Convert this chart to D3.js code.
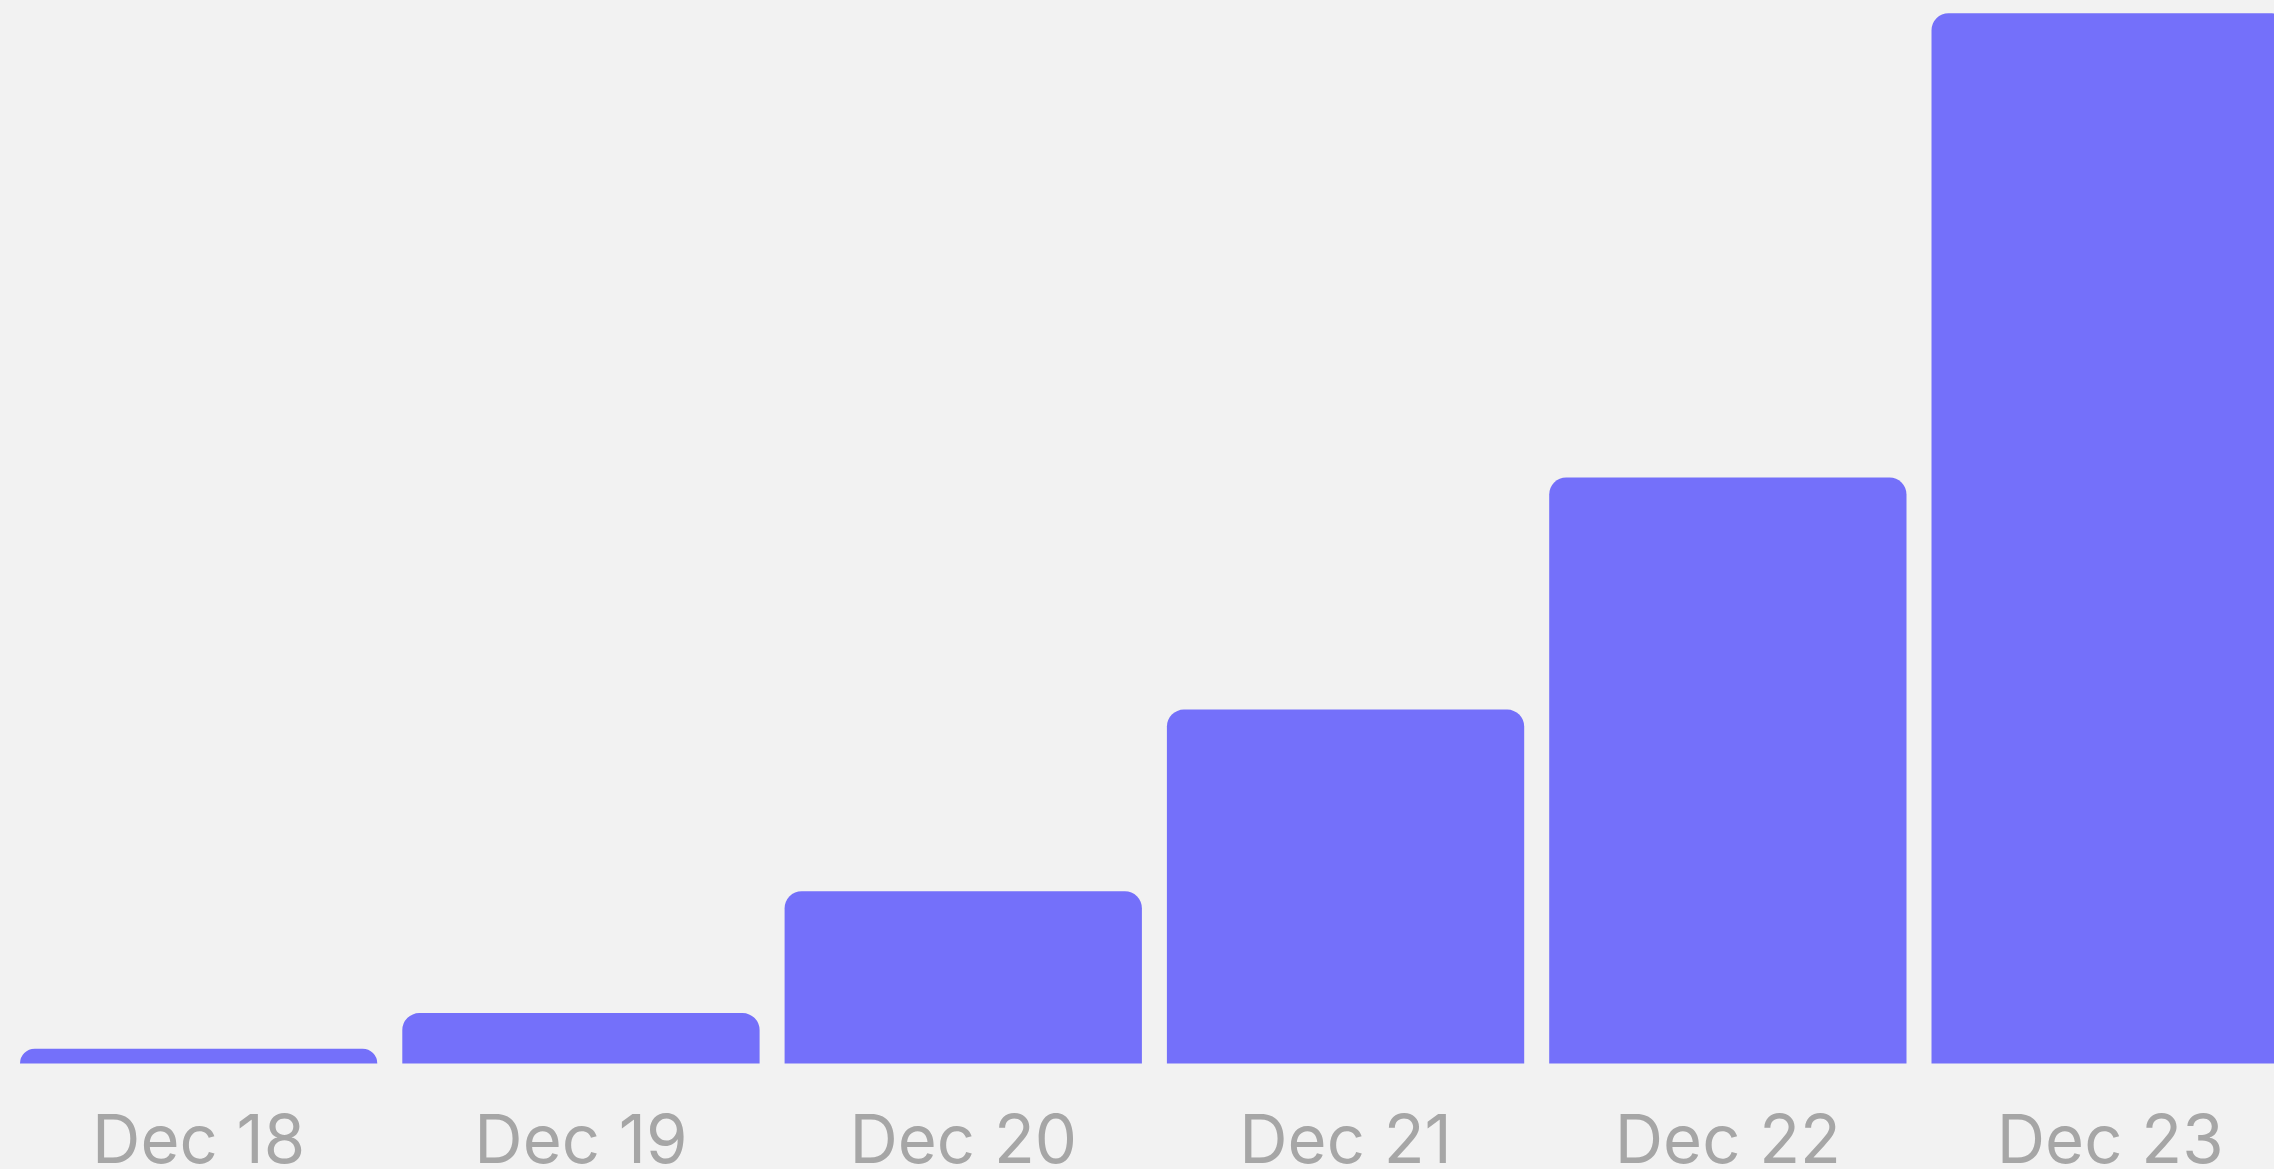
<!DOCTYPE html>
<html>
<head>
<meta charset="utf-8">
<script src="https://cdn.jsdelivr.net/npm/d3@7/dist/d3.min.js"></script>
<style>
  html, body { margin: 0; padding: 0; background: #f2f2f2; overflow: hidden; }
  svg { display: block; }
</style>
</head>
<body>
<script>
// Data
const categories = ["Dec 18", "Dec 19", "Dec 20", "Dec 21", "Dec 22", "Dec 23"];
const values = [14, 48, 164, 337, 558, 1000];
const yMax = 1000;

const W = 2274, H = 1169;
const baseline = 1063.5;
const topY = 13.3;

const svg = d3.select("body").append("svg")
  .attr("width", W).attr("height", H);

svg.append("rect").attr("width", W).attr("height", H).attr("fill", "#f2f2f2");

const step = 382.3;
const x = d3.scaleBand()
  .domain(categories)
  .range([7.5, 7.5 + step * categories.length])
  .paddingInner(0.0654)
  .paddingOuter(0.0327);

const y = d3.scaleLinear().domain([0, yMax]).range([baseline, topY]);

function topRounded(x0, y0, w, h, r) {
  r = Math.min(r, h, w / 2);
  return `M${x0},${y0 + h}` +
    `V${y0 + r}` +
    `A${r},${r} 0 0 1 ${x0 + r},${y0}` +
    `H${x0 + w - r}` +
    `A${r},${r} 0 0 1 ${x0 + w},${y0 + r}` +
    `V${y0 + h}Z`;
}

svg.append("g").selectAll("path")
  .data(values)
  .join("path")
  .attr("d", (d, i) => {
    const x0 = x(categories[i]);
    const y0 = y(d);
    return topRounded(x0, y0, x.bandwidth(), baseline - y0, 17);
  })
  .attr("fill", "#7470fa");

const xAxis = d3.axisBottom(x).tickSize(0).tickPadding(0);
const gx = svg.append("g")
  .attr("transform", `translate(0,${baseline})`)
  .call(xAxis);
gx.select(".domain").remove();
gx.selectAll("text")
  .attr("y", 0)
  .attr("dy", 0)
  .attr("transform", "translate(0,99.5)")
  .attr("fill", "#a6a6a6")
  .style("font-family", "Inter, 'Open Sans', sans-serif")
  .style("font-size", "67px")
  .style("font-weight", "400");
</script>
</body>
</html>
